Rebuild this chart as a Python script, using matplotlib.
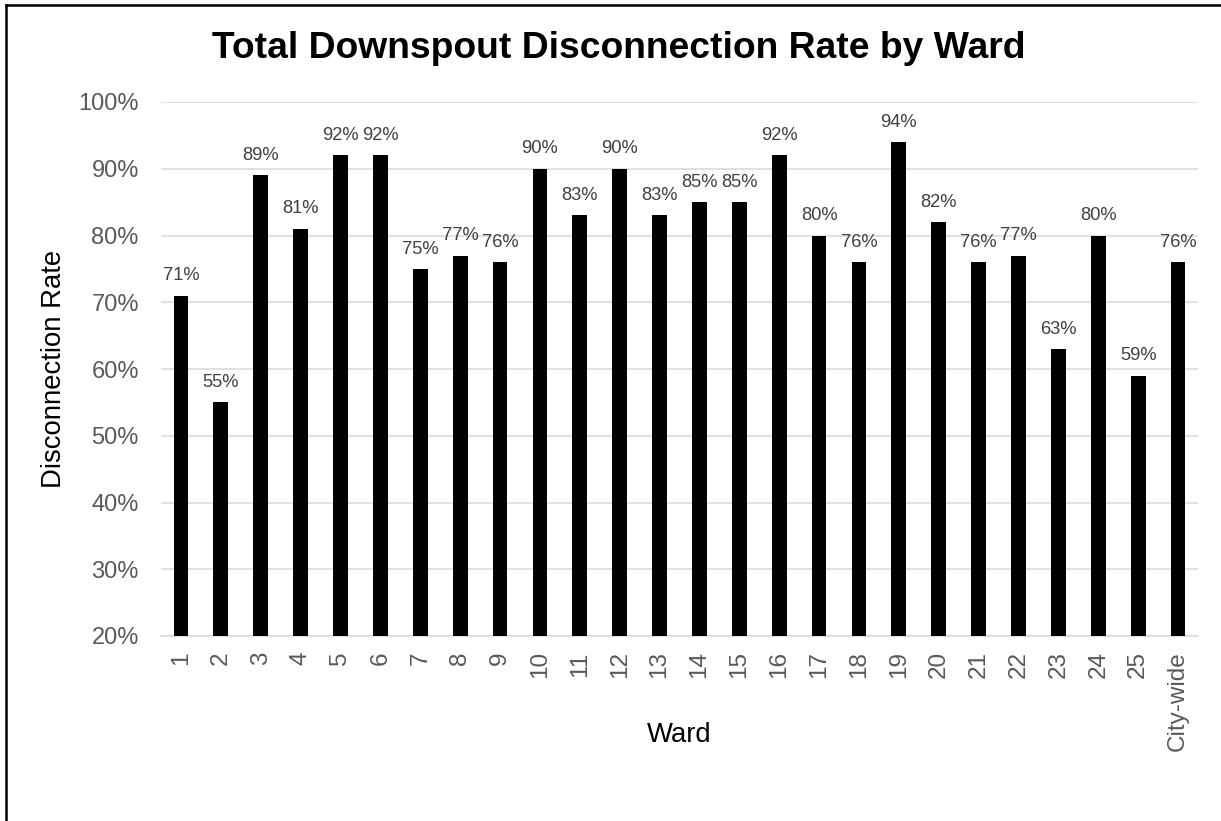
import matplotlib
matplotlib.use("Agg")
import matplotlib.pyplot as plt
from matplotlib.lines import Line2D
from matplotlib.ticker import FuncFormatter

wards = [str(i) for i in range(1, 26)] + ["City-wide"]
rates = [71, 55, 89, 81, 92, 92, 75, 77, 76, 90, 83, 90, 83, 85, 85, 92, 80, 76, 94, 82, 76, 77, 63, 80, 59, 76]
yticks = [20, 30, 40, 50, 60, 70, 80, 90, 100]

plt.rcParams['font.family'] = ['Liberation Sans', 'DejaVu Sans']

W, H = 1221, 821
fig = plt.figure(figsize=(W / 100, H / 100), dpi=100)
ax = fig.add_axes([161/W, 1-636/H, (1198-161)/W, (636-102)/H])

x = list(range(len(wards)))
ax.bar(x, rates, width=0.37, color='black', zorder=3)
for xi, v in zip(x, rates):
    ax.text(xi, v + 1.7, f"{v}%", ha='center', va='bottom', fontsize=13.2, color='#404040')

ax.set_xlim(-0.5, len(wards) - 0.5)
ax.set_ylim(20, 100)
ax.set_yticks(yticks)
ax.yaxis.set_major_formatter(FuncFormatter(lambda v, p: f"{int(v)}%"))
ax.grid(axis='y', color='#d9d9d9', linewidth=1.1, zorder=0)
ax.set_xticks(x)
ax.set_xticklabels(wards, rotation=90, fontsize=17.5, color='#595959')
ax.tick_params(axis='y', labelsize=17, labelcolor='#595959', length=0, pad=16)
ax.tick_params(axis='x', length=0, pad=11)
for s in ['top', 'right', 'left']:
    ax.spines[s].set_visible(False)
ax.spines['bottom'].set_color('#d9d9d9')
ax.spines['bottom'].set_linewidth(1.1)

ax.set_ylabel("Disconnection Rate", fontsize=19.8, color='black', va='center')
ax.yaxis.set_label_coords((54-161)/1037, 0.5)
ax.set_xlabel("Ward", fontsize=19.8, color='black', va='center')
ax.xaxis.set_label_coords(0.5, (636-735)/534)

fig.text(619/W, 1 - 49/H, "Total Downspout Disconnection Rate by Ward",
         ha='center', va='center', fontsize=26.8, fontweight='bold', color='black')

# partial frame (top and left edges visible)
fig.add_artist(Line2D([6/W, 6/W], [0, 1 - 5/H], transform=fig.transFigure, color='black', linewidth=1.8))
fig.add_artist(Line2D([6/W, 1], [1 - 5/H, 1 - 5/H], transform=fig.transFigure, color='black', linewidth=1.8))

fig.savefig("out.png", dpi=100)
